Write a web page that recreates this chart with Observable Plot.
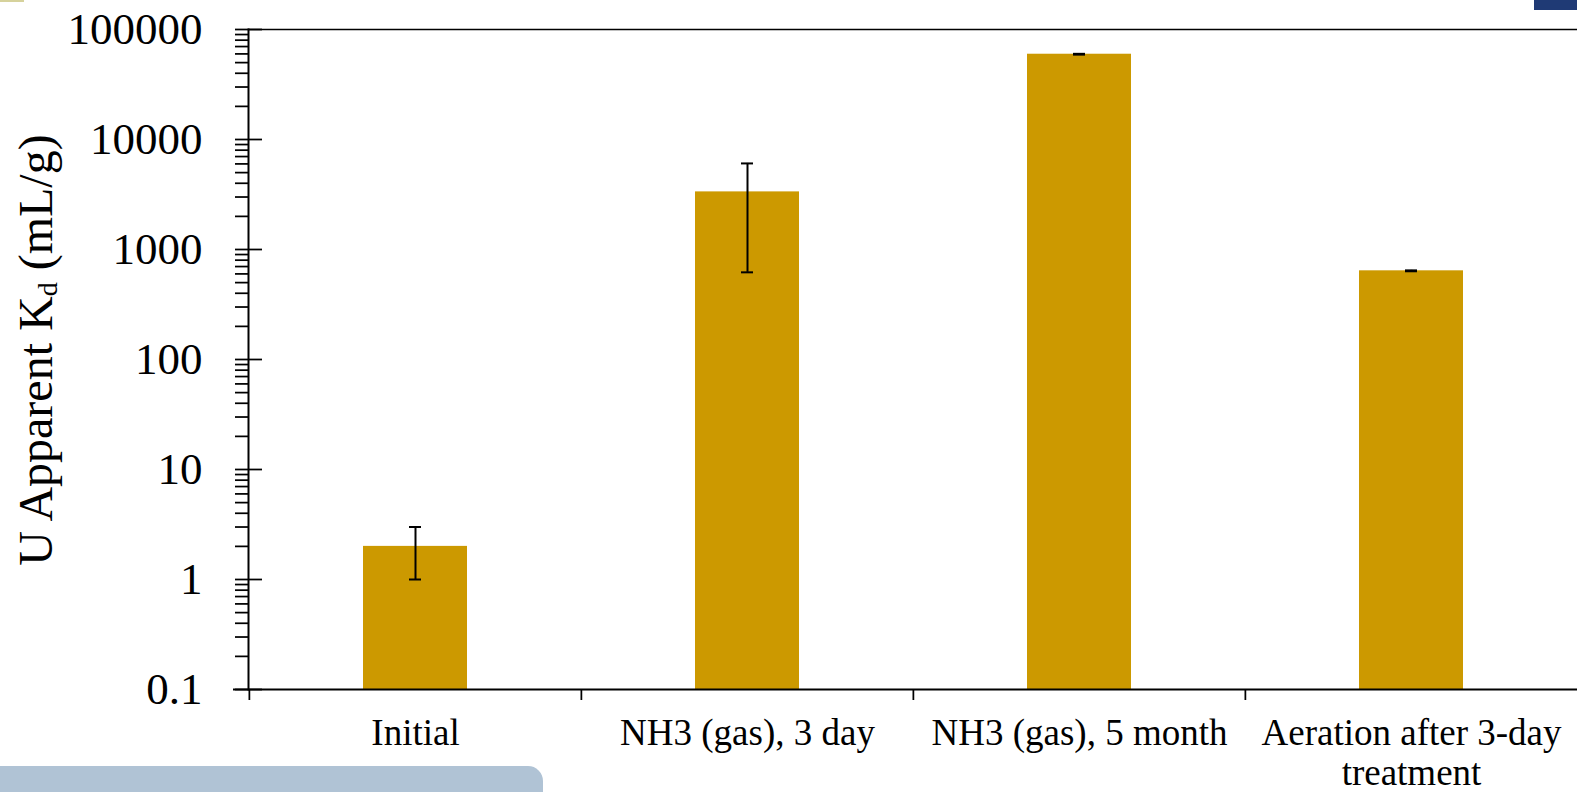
<!DOCTYPE html>
<html>
<head>
<meta charset="utf-8">
<script src="https://cdn.jsdelivr.net/npm/d3@7"></script>
<script src="https://cdn.jsdelivr.net/npm/@observablehq/plot@0.6"></script>
<style>
  html, body { margin: 0; padding: 0; background: #ffffff; overflow: hidden; }
  #wrap { position: relative; width: 1577px; height: 792px; overflow: hidden; }
  #wrap svg { display: block; position: absolute; left: 0; top: 0; }
  .deco { position: absolute; }
</style>
</head>
<body>
<div id="wrap">
  <div class="deco" style="left:0;top:766px;width:543px;height:40px;background:#b0c3d5;border-top-right-radius:15px;"></div>
  <div class="deco" style="left:1534px;top:0;width:43px;height:10px;background:#1f3a75;"></div>
  <div class="deco" style="left:0;top:0;width:24px;height:2px;background:#d6d29c;"></div>
</div>
<script>
// ---- data ----
const categories = ["Initial", "NH3 (gas), 3 day", "NH3 (gas), 5 month", "Aeration after 3-day\ntreatment"];
const values = [2, 3340, 59600, 640];
const errors = [1, 2720, 500, 6];
const majorTicks = [0.1, 1, 10, 100, 1000, 10000, 100000];
const yMin = 0.1, yMax = 100000;

const data = categories.map((c, i) => ({cat: c, value: values[i], err: errors[i]}));
const minorTicks = [];
for (let i = 0; i < majorTicks.length - 1; i++)
  for (let m = 2; m <= 9; m++) minorTicks.push(+(majorTicks[i] * m).toPrecision(3));

const W = 1577, H = 792, ML = 248, MR = 0, MT = 29, MB = 103;
const plotW = W - ML - MR, plotH = H - MT - MB;
const step = plotW / categories.length;
const serif = "'Liberation Serif', 'Times New Roman', Times, serif";

const chart = Plot.plot({
  width: W, height: H,
  marginLeft: ML, marginRight: MR, marginTop: MT, marginBottom: MB,
  style: {fontFamily: serif, color: "black", background: "transparent", overflow: "visible"},
  x: {domain: categories, paddingInner: 0.687, paddingOuter: 0.3435},
  y: {type: "log", domain: [yMin, yMax]},
  marks: [
    Plot.barY(data, {x: "cat", y1: () => yMin, y2: "value", fill: "#cc9900"}),
    Plot.ruleX(data, {x: "cat", y1: d => d.value - d.err, y2: d => d.value + d.err, stroke: "black", strokeWidth: 2}),
    Plot.tickY(data, {x: "cat", y: d => d.value - d.err, inset: 46, stroke: "black", strokeWidth: 2}),
    Plot.tickY(data, {x: "cat", y: d => d.value + d.err, inset: 46, stroke: "black", strokeWidth: 2}),
    // frame lines
    Plot.frame({anchor: "top", stroke: "black", strokeWidth: 1.5}),
    Plot.frame({anchor: "left", stroke: "black", strokeWidth: 2}),
    Plot.ruleY([yMin], {insetLeft: -15, stroke: "black", strokeWidth: 2}),
    // y ticks
    Plot.axisY({ticks: majorTicks, tickSize: 13, tickPadding: 33, tickFormat: d => String(d), fontSize: 45, label: null, strokeWidth: 1.75}),
    Plot.tickY(majorTicks, {y: d => d, insetRight: plotW - 14, stroke: "black", strokeWidth: 1.75}),
    Plot.tickY(minorTicks, {y: d => d, insetLeft: -13, insetRight: plotW, stroke: "black", strokeWidth: 1.75}),
    // x boundary ticks
    Plot.tickX(categories, {x: d => d, dx: -step / 2, insetTop: plotH, insetBottom: -11, stroke: "black", strokeWidth: 1.75}),
    Plot.axisX({tickSize: 0, tickPadding: 27, fontSize: 37, lineHeight: 1.08, label: null})
  ]
});

// y-axis title with subscript
const svg = d3.select(chart);
const title = svg.append("text")
  .attr("transform", "translate(52,350) rotate(-90)")
  .attr("text-anchor", "middle")
  .attr("font-family", serif)
  .attr("font-size", 48)
  .attr("fill", "black");
title.append("tspan").text("U Apparent K");
title.append("tspan").attr("font-size", 28).attr("dy", 5).text("d");
title.append("tspan").attr("dy", -5).text(" (mL/g)");

document.getElementById("wrap").prepend(chart);
</script>
</body>
</html>
